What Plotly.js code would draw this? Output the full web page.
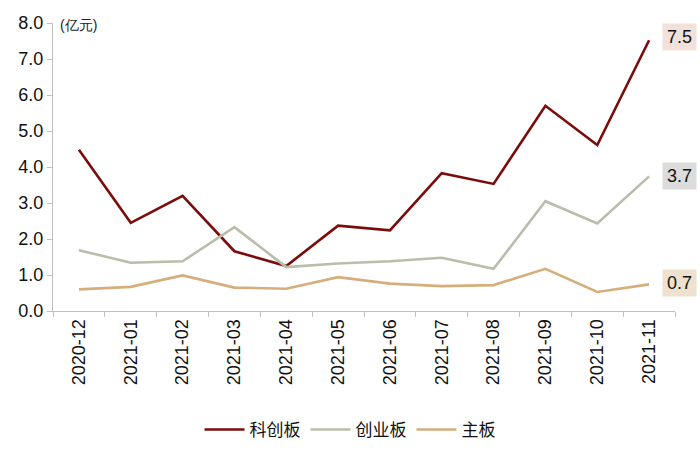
<!DOCTYPE html>
<html>
<head>
<meta charset="utf-8">
<script src="https://cdn.plot.ly/plotly-3.0.1.min.js"></script>
<style>html,body{margin:0;padding:0;background:#fff;}#chart{width:700px;height:456px;}</style>
</head>
<body>
<div id="chart"></div>
<script>
const months = ["2020-12","2021-01","2021-02","2021-03","2021-04","2021-05","2021-06","2021-07","2021-08","2021-09","2021-10","2021-11"];
const kechuang = [4.48, 2.45, 3.20, 1.66, 1.25, 2.37, 2.24, 3.83, 3.53, 5.70, 4.61, 7.52];
const chuangye = [1.69, 1.34, 1.38, 2.33, 1.22, 1.32, 1.38, 1.48, 1.17, 3.05, 2.43, 3.74];
const zhuban = [0.60, 0.67, 0.99, 0.65, 0.62, 0.94, 0.76, 0.69, 0.72, 1.17, 0.53, 0.74];
const seriesNames = ["科创板", "创业板", "主板"];
const endLabels = ["7.5", "3.7", "0.7"];

const colors = ["#7A0C0C", "#BABDAA", "#D5AE7C"];
const boxColors = ["#F2E1DB", "#DCDCDC", "#EEE2CF"];
const allSeries = [kechuang, chuangye, zhuban];

const traces = allSeries.map((s, i) => ({
  x: months, y: s, type: "scatter", mode: "lines", name: seriesNames[i],
  line: {color: colors[i], width: 2.6}, cliponaxis: false
}));

const yShifts = [3, 0, 1];
const annotations = allSeries.map((s, i) => ({
  x: months[months.length - 1], y: s[s.length - 1], xref: "x", yref: "y",
  text: endLabels[i], showarrow: false, xshift: 30, yshift: yShifts[i],
  bgcolor: boxColors[i], borderpad: 3, width: 27,
  font: {family: "Liberation Sans, Arial, sans-serif", size: 18, color: "#111"}
}));
annotations.push({
  x: 0, y: 1, xref: "paper", yref: "paper", xanchor: "left", yanchor: "middle",
  xshift: 5, yshift: -2, text: "(亿元)", showarrow: false,
  font: {family: "Liberation Sans, Arial, sans-serif", size: 14, color: "#222"}
});

const layout = {
  width: 700, height: 456,
  margin: {l: 53, r: 25, t: 23, b: 145},
  paper_bgcolor: "#fff", plot_bgcolor: "#fff",
  font: {family: "Liberation Sans, Arial, sans-serif", size: 18, color: "#111"},
  showlegend: true,
  legend: {orientation: "h", x: 0.5, xref: "container", xanchor: "center",
           y: 0.057, yref: "container", yanchor: "middle",
           font: {size: 17, family: "Noto Sans CJK SC, sans-serif", color: "#111"}, itemwidth: 40},
  xaxis: {
    type: "category", tickangle: -90, showline: true, linecolor: "#BFBFBF", linewidth: 1,
    ticks: "outside", tickson: "boundaries", ticklen: 5, tickcolor: "#BFBFBF",
    showgrid: false, zeroline: false, tickfont: {size: 18}, range: [-0.5, 11.5], automargin: false
  },
  yaxis: {
    range: [0, 8], dtick: 1, tickformat: ".1f", showline: true, linecolor: "#BFBFBF", linewidth: 1,
    ticks: "outside", ticklen: 5, tickcolor: "#BFBFBF", showgrid: false, zeroline: false,
    tickfont: {size: 18}, automargin: false
  },
  annotations: annotations
};

Plotly.newPlot("chart", traces, layout, {displayModeBar: false, staticPlot: true});
</script>
</body>
</html>
